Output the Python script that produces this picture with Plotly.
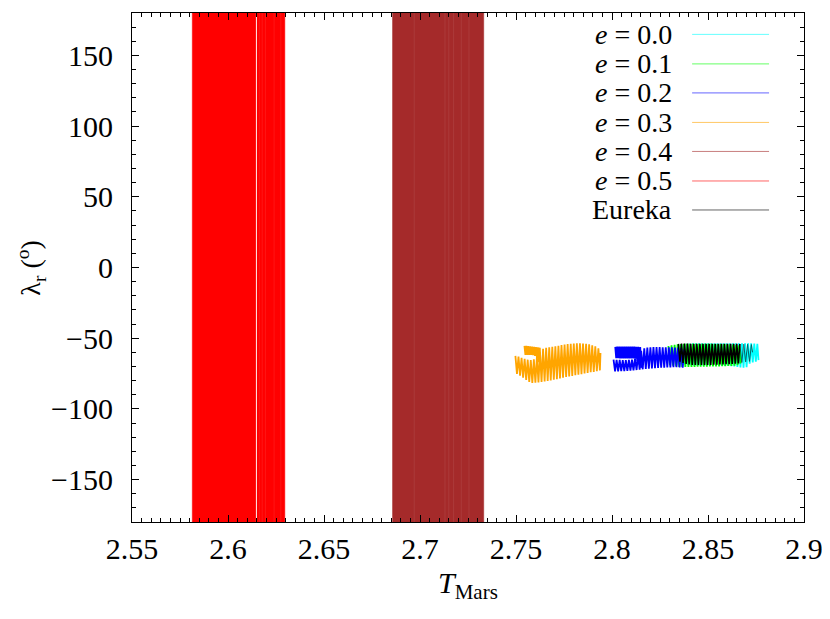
import plotly.graph_objects as go

# ---------------- axes ----------------
x_range = [2.55, 2.9]
y_range = [-180, 180]
x_tick_vals = [2.55, 2.6, 2.65, 2.7, 2.75, 2.8, 2.85, 2.9]
x_tick_text = ["2.55", "2.6", "2.65", "2.7", "2.75", "2.8", "2.85", "2.9"]
y_tick_vals = [-150, -100, -50, 0, 50, 100, 150]
y_tick_text = ["\u2212150", "\u2212100", "\u221250", "0", "50", "100", "150"]

# ---------------- series ----------------
names = ["<i>e</i> = 0.0", "<i>e</i> = 0.1", "<i>e</i> = 0.2", "<i>e</i> = 0.3",
         "<i>e</i> = 0.4", "<i>e</i> = 0.5", "Eureka"]
colors = ["#00ffff", "#00ff00", "#0000ff", "#ffa500", "#a52a2a", "#ff0000", "#000000"]

# e = 0.0 (turning points of the libration)
e0_T = [2.8357, 2.8365, 2.8373, 2.8381, 2.8389, 2.8397, 2.8405, 2.8413, 2.8421, 2.8429,
        2.8437, 2.8445, 2.8453, 2.8461, 2.8469, 2.8477, 2.8485, 2.8493, 2.8501, 2.8509,
        2.8517, 2.8525, 2.8533, 2.8541, 2.8549, 2.8557, 2.8565, 2.8573, 2.8581, 2.8589,
        2.8597, 2.8605, 2.8613, 2.8621, 2.8629, 2.8637, 2.8645, 2.8653, 2.8661, 2.8669,
        2.8677, 2.8685, 2.8693, 2.8701, 2.8709, 2.8717, 2.8725, 2.8733, 2.8741, 2.8749,
        2.8757, 2.8763]
e0_L = [-55.0, -68.0, -54.5, -68.5, -54.0, -69.0, -53.8, -69.3, -53.7, -69.5,
        -53.6, -69.5, -53.6, -69.5, -53.6, -69.5, -53.6, -69.5, -53.6, -69.5,
        -53.6, -69.5, -53.6, -69.5, -53.6, -69.5, -53.6, -69.5, -53.6, -69.6,
        -53.6, -69.7, -53.6, -69.8, -53.6, -70.0, -53.6, -70.3, -53.6, -70.6,
        -53.6, -70.8, -53.6, -70.5, -53.6, -68.0, -53.7, -67.2, -53.8, -66.6,
        -54.0, -65.5]

# e = 0.1
e1_T = [2.8294, 2.8302, 2.8310, 2.8318, 2.8326, 2.8334, 2.8342, 2.8350, 2.8358, 2.8366,
        2.8374, 2.8382, 2.8390, 2.8398, 2.8406, 2.8414, 2.8422, 2.8430, 2.8438, 2.8446,
        2.8454, 2.8462, 2.8470, 2.8478, 2.8486, 2.8494, 2.8502, 2.8510, 2.8518, 2.8526,
        2.8534, 2.8542, 2.8550, 2.8558, 2.8566, 2.8574, 2.8582, 2.8590, 2.8598, 2.8606,
        2.8614, 2.8622, 2.8630, 2.8638, 2.8646, 2.8654, 2.8662, 2.8669]
e1_L = [-55.5, -69.0, -55.0, -69.5, -54.6, -70.0, -54.3, -70.3, -54.1, -70.4,
        -54.0, -70.4, -54.0, -70.4, -54.0, -70.3, -54.0, -70.3, -54.0, -70.2,
        -54.0, -70.2, -54.0, -70.1, -54.0, -70.1, -54.0, -70.0, -54.0, -70.0,
        -54.1, -69.9, -54.1, -69.9, -54.2, -69.8, -54.2, -69.8, -54.3, -69.7,
        -54.4, -69.6, -54.5, -69.4, -54.6, -69.0, -55.0, -68.0]

# e = 0.2 : lower (main) strand and upper strand
e2a_T = [2.8008, 2.8016, 2.8024, 2.8032, 2.8040, 2.8048, 2.8056, 2.8064, 2.8072, 2.8080,
         2.8088, 2.8096, 2.8104, 2.8112, 2.8120, 2.8128, 2.8136, 2.8144, 2.8152, 2.8160,
         2.8168, 2.8176, 2.8184, 2.8192, 2.8200, 2.8208, 2.8216, 2.8224, 2.8232, 2.8240,
         2.8248, 2.8256, 2.8264, 2.8272, 2.8280, 2.8288, 2.8296, 2.8304, 2.8312, 2.8320,
         2.8328, 2.8336, 2.8344, 2.8352, 2.8360, 2.8368, 2.8376]
e2a_L = [-65.1, -73.5, -65.3, -73.4, -65.4, -73.3, -65.5, -73.2, -65.5, -73.1,
         -65.4, -72.9, -65.2, -72.7, -64.5, -72.5, -62.0, -72.3, -59.0, -72.0,
         -57.2, -71.8, -56.6, -71.6, -56.4, -71.4, -56.3, -71.2, -56.3, -71.0,
         -56.3, -70.9, -56.4, -70.8, -56.4, -70.7, -56.5, -70.6, -56.5, -70.5,
         -56.6, -70.5, -56.7, -70.6, -56.9, -70.8, -58.0]
e2b_T = [2.8017, 2.8022, 2.8027, 2.8032, 2.8037, 2.8042, 2.8047, 2.8052, 2.8057, 2.8062,
         2.8067, 2.8072, 2.8077, 2.8082, 2.8087, 2.8092, 2.8097, 2.8102, 2.8107, 2.8112,
         2.8117, 2.8122, 2.8127, 2.8132, 2.8137, 2.8142, 2.8147, 2.8152]
e2b_L = [-56.1, -64.2, -56.0, -64.2, -56.0, -64.3, -56.0, -64.3, -56.0, -64.3,
         -56.0, -64.3, -56.0, -64.3, -56.0, -64.3, -56.0, -64.3, -56.0, -64.3,
         -56.0, -64.5, -56.1, -66.0, -56.1, -68.5, -56.2, -71.0]

# e = 0.3 : main strand and upper-left strand
e3a_T = [2.7497, 2.7505, 2.7513, 2.7521, 2.7529, 2.7537, 2.7545, 2.7553, 2.7561, 2.7569,
         2.7577, 2.7585, 2.7593, 2.7601, 2.7609, 2.7617, 2.7625, 2.7633, 2.7641, 2.7649,
         2.7657, 2.7665, 2.7673, 2.7681, 2.7689, 2.7697, 2.7705, 2.7713, 2.7721, 2.7729,
         2.7737, 2.7745, 2.7753, 2.7761, 2.7769, 2.7777, 2.7785, 2.7793, 2.7801, 2.7809,
         2.7817, 2.7825, 2.7833, 2.7841, 2.7849, 2.7857, 2.7865, 2.7873, 2.7881, 2.7889,
         2.7897, 2.7905, 2.7913, 2.7921, 2.7929, 2.7937, 2.7940]
e3a_L = [-62.5, -75.3, -63.0, -76.5, -63.8, -78.0, -64.6, -79.5, -65.2, -81.0,
         -65.5, -81.6, -65.0, -81.5, -63.0, -81.3, -60.0, -81.0, -57.5, -80.6,
         -56.8, -80.3, -56.5, -79.9, -56.1, -79.4, -55.7, -79.0, -55.3, -78.5,
         -54.8, -78.0, -54.5, -77.5, -54.2, -77.1, -54.0, -76.7, -53.8, -76.2,
         -53.6, -75.8, -53.6, -75.4, -53.7, -75.0, -53.9, -74.5, -54.3, -74.1,
         -55.0, -73.8, -55.8, -73.4, -57.2, -72.8, -60.5]
e3b_T = [2.7544, 2.7549, 2.7554, 2.7559, 2.7564, 2.7569, 2.7574, 2.7579, 2.7584, 2.7589,
         2.7594, 2.7599, 2.7604, 2.7609, 2.7614, 2.7619, 2.7624, 2.7629]
e3b_L = [-55.5, -61.8, -55.5, -61.8, -55.6, -61.9, -55.7, -61.9, -55.9, -62.0,
         -56.1, -62.5, -56.3, -64.0, -56.5, -67.0, -56.7, -72.0]

# e = 0.4 and e = 0.5 : circulating orbits filling the whole lambda range
e4_T_edges = [2.6857, 2.7332]
e5_T_edges = [2.5814, 2.6296]
lam_full = [-180, 180]
e4_streak_T = [2.6970, 2.7130, 2.7150, 2.7175, 2.7215, 2.7255]
e5_streak_T = [2.6163, 2.6178, 2.6195, 2.6240, 2.6275]
e5_gap_T = [2.6148]

# Eureka : dense part and sparse tail
eu_T = [2.8346, 2.8354, 2.8362, 2.8370, 2.8378, 2.8386, 2.8394, 2.8402, 2.8410, 2.8418,
        2.8426, 2.8434, 2.8442, 2.8450, 2.8458, 2.8466, 2.8474, 2.8482, 2.8490, 2.8498,
        2.8506, 2.8514, 2.8522, 2.8530, 2.8538, 2.8546, 2.8554, 2.8562, 2.8570, 2.8578,
        2.8586, 2.8594, 2.8602, 2.8610, 2.8618, 2.8626, 2.8634, 2.8642, 2.8650, 2.8658,
        2.8666]
eu_L = [-54.0, -66.6, -53.8, -67.5, -53.8, -68.2, -53.8, -68.6, -53.9, -68.9,
        -53.9, -69.0, -53.9, -69.0, -54.0, -69.0, -54.0, -69.0, -54.0, -68.9,
        -54.0, -68.9, -54.0, -68.8, -54.0, -68.7, -54.0, -68.6, -54.0, -68.5,
        -54.0, -68.4, -54.0, -68.3, -54.0, -68.2, -54.0, -68.0, -54.0, -67.9,
        -54.1]
eu_tail_T = [2.8666, 2.8676, 2.8686, 2.8696, 2.8706, 2.8716, 2.8726, 2.8732]
eu_tail_L = [-54.1, -67.2, -54.2, -66.8, -54.3, -66.4, -54.5, -60.0]

FONT = "Liberation Serif"
FS = 30
FS_KEY = 28

fig = go.Figure()


def line(T, L, color, width=1.0, opacity=1.0):
    fig.add_trace(go.Scatter(x=T, y=L, mode="lines", showlegend=False, hoverinfo="skip",
                             opacity=opacity, line=dict(color=color, width=width)))


def band(edges, color):
    a, b = edges
    lo, hi = lam_full
    fig.add_trace(go.Scatter(x=[a, a, b, b, a], y=[lo, hi, hi, lo, lo], mode="lines",
                             fill="toself", fillcolor=color, line=dict(color=color, width=0.5),
                             showlegend=False, hoverinfo="skip"))


def streaks(Ts, color, width, opacity):
    xs, ys = [], []
    for t in Ts:
        xs += [t, t, None]
        ys += [lam_full[0], lam_full[1], None]
    fig.add_trace(go.Scatter(x=xs, y=ys, mode="lines", opacity=opacity, showlegend=False,
                             hoverinfo="skip", line=dict(color=color, width=width)))


line(e0_T, e0_L, colors[0], 1.8)
line(e1_T, e1_L, colors[1], 1.8)
line(e2a_T, e2a_L, colors[2], 1.8)
line(e2b_T, e2b_L, colors[2], 1.8)
line(e3a_T, e3a_L, colors[3], 1.8)
line(e3b_T, e3b_L, colors[3], 1.8)
band(e4_T_edges, colors[4])
streaks(e4_streak_T, "#ffffff", 1, 0.07)
band(e5_T_edges, colors[5])
streaks(e5_streak_T, "#ffffff", 1, 0.08)
streaks(e5_gap_T, "#ffffff", 1.0, 0.95)
line(eu_T, eu_L, colors[6], 1.6)
line(eu_tail_T, eu_tail_L, colors[6], 1.0, 0.6)

# ---- gnuplot-style key: right-aligned text, line sample to the right ----
row_y = [0.958, 0.900, 0.843, 0.785, 0.728, 0.670, 0.613]
annotations = []
shapes = []
for name, col, yy in zip(names, colors, row_y):
    annotations.append(dict(x=0.807, y=yy, xref="paper", yref="paper", text=name,
                            showarrow=False, xanchor="right", yanchor="middle",
                            font=dict(family=FONT, size=FS_KEY, color="black")))
    shapes.append(dict(type="line", xref="paper", yref="paper", x0=0.8335, x1=0.948,
                       y0=yy, y1=yy, opacity=0.6, line=dict(color=col, width=1)))

# axis titles as annotations (gnuplot-like placement)
annotations.append(dict(x=0.5, y=-0.083, xref="paper", yref="paper", yanchor="top",
                        text="<i>T</i><sub>Mars</sub>", showarrow=False,
                        font=dict(family=FONT, size=FS, color="black")))
annotations.append(dict(x=-0.15, y=0.5, xref="paper", yref="paper", xanchor="center",
                        text="\u03bb<sub>r</sub> (<sup>o</sup>)", showarrow=False, textangle=-90,
                        font=dict(family=FONT, size=28, color="black")))

axis_common = dict(
    showline=True, linecolor="black", linewidth=1, mirror="allticks",
    ticks="inside", ticklen=7, tickcolor="black", tickwidth=1,
    showgrid=False, zeroline=False, automargin=False,
    tickfont=dict(family=FONT, size=FS, color="black"),
)

# the page body adds an 8 px offset, compensated in the margins
fig.update_layout(
    width=830, height=619,
    margin=dict(l=123.5, r=34, t=5, b=105),
    paper_bgcolor="white", plot_bgcolor="white",
    showlegend=False,
    annotations=annotations, shapes=shapes,
    xaxis=dict(range=x_range, tickmode="array", tickvals=x_tick_vals, ticktext=x_tick_text,
               minor=dict(ticks="inside", ticklen=4, tick0=2.55, dtick=0.005,
                          tickcolor="black", showgrid=False),
               ticklabelstandoff=0,
               **axis_common),
    yaxis=dict(range=y_range, tickmode="array", tickvals=y_tick_vals, ticktext=y_tick_text,
               minor=dict(ticks="inside", ticklen=4, tick0=0, dtick=10,
                          tickcolor="black", showgrid=False),
               ticklabelstandoff=12,
               **axis_common),
)

fig.write_html("out.html")
